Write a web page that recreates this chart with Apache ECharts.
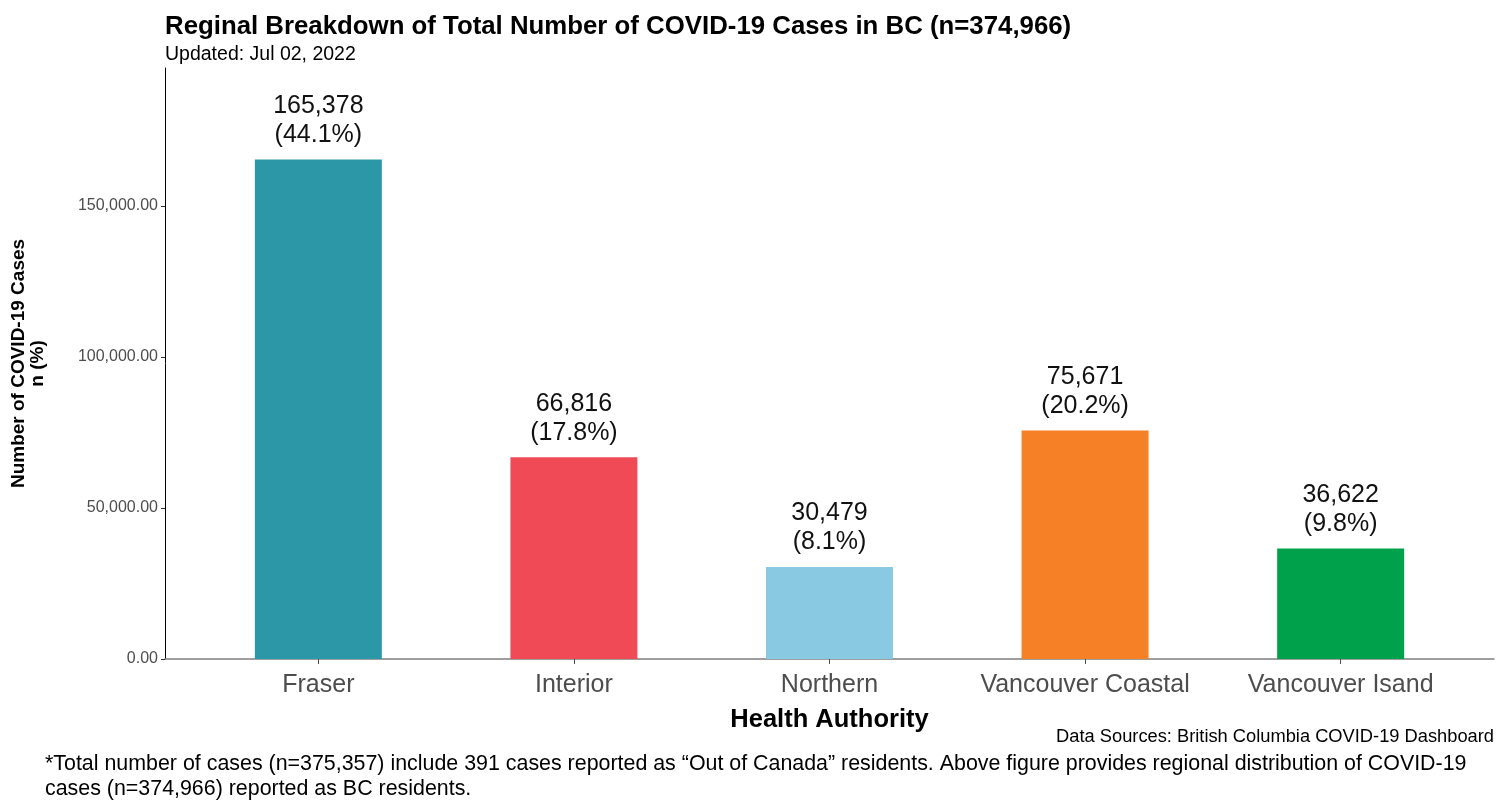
<!DOCTYPE html>
<html>
<head>
<meta charset="utf-8">
<script src="https://cdn.jsdelivr.net/npm/echarts@6/dist/echarts.min.js"></script>
<style>html,body{margin:0;padding:0;background:#fff}#c{width:1507px;height:800px}</style>
</head>
<body>
<div id="c"></div>
<script>
const categories = ['Fraser', 'Interior', 'Northern', 'Vancouver Coastal', 'Vancouver Isand'];
const cases = [165378, 66816, 30479, 75671, 36622];
const percents = ['44.1', '17.8', '8.1', '20.2', '9.8'];
const colors = ['#2C97A7', '#EF4A55', '#89C9E2', '#F58025', '#00A14B'];
const yTicks = [0, 50000, 100000, 150000];
const positions = [1, 2, 3, 4, 5];

const FONT = 'Liberation Sans, Arial, sans-serif';
const fmt = n => n.toLocaleString('en-US');

const chart = echarts.init(document.getElementById('c'));
chart.setOption({
  animation: false,
  backgroundColor: '#fff',
  textStyle: { fontFamily: FONT },
  title: [
    {
      text: 'Reginal Breakdown of Total Number of COVID-19 Cases in BC (n=374,966)',
      subtext: 'Updated: Jul 02, 2022',
      left: 165, top: 14,
      padding: 0,
      itemGap: 5,
      textStyle: { fontFamily: FONT, fontSize: 25.8, fontWeight: 'bold', color: '#000' },
      subtextStyle: { fontFamily: FONT, fontSize: 19.5, color: '#000' }
    },
    {
      text: 'Data Sources: British Columbia COVID-19 Dashboard',
      right: 13, top: 728,
      padding: 0,
      textStyle: { fontFamily: FONT, fontSize: 18.3, fontWeight: 'normal', color: '#000' }
    },
    {
      text: '*Total number of cases (n=375,357) include 391 cases reported as \u201cOut of Canada\u201d residents. Above figure provides regional distribution of COVID-19\ncases (n=374,966) reported as BC residents.',
      left: 45, top: 752,
      padding: 0,
      textStyle: { fontFamily: FONT, fontSize: 21.4, fontWeight: 'normal', color: '#000', lineHeight: 25 }
    }
  ],
  grid: { left: 165, right: 13, top: 68, bottom: 141, outerBoundsMode: 'none', containLabel: false },
  xAxis: {
    type: 'value',
    min: 0.4, max: 5.6,
    name: 'Health Authority',
    nameLocation: 'middle',
    nameGap: 48,
    nameTextStyle: { fontFamily: FONT, fontSize: 25.5, fontWeight: 'bold', color: '#000' },
    axisLine: { show: true, lineStyle: { color: '#7f7f7f', width: 1.5 } },
    axisTick: { show: true, customValues: positions, length: 5, lineStyle: { color: '#4d4d4d' } },
    axisLabel: {
      customValues: positions,
      formatter: v => categories[Math.round(v) - 1],
      fontFamily: FONT, fontSize: 25, color: '#4d4d4d', margin: 14
    },
    splitLine: { show: false }
  },
  yAxis: {
    type: 'value',
    min: 0, max: 195700,
    name: 'Number of COVID-19 Cases\nn (%)',
    nameLocation: 'middle',
    nameGap: 118,
    nameRotate: 90,
    nameTextStyle: { fontFamily: FONT, fontSize: 19, fontWeight: 'bold', color: '#000', lineHeight: 19 },
    axisLine: { show: true, lineStyle: { color: '#000', width: 1 } },
    axisTick: { show: true, customValues: yTicks, length: 4, lineStyle: { color: '#333' } },
    axisLabel: {
      customValues: yTicks,
      formatter: v => v.toLocaleString('en-US', { minimumFractionDigits: 2, maximumFractionDigits: 2 }),
      fontFamily: FONT, fontSize: 16, color: '#4d4d4d', margin: 7
    },
    splitLine: { show: false }
  },
  series: [{
    type: 'bar',
    barWidth: 127,
    data: cases.map((v, i) => ({ value: [positions[i], v], itemStyle: { color: colors[i] } })),
    label: {
      show: true,
      position: 'top',
      distance: 10,
      fontFamily: FONT, fontSize: 25, color: '#111', lineHeight: 29,
      formatter: p => fmt(cases[p.dataIndex]) + '\n(' + percents[p.dataIndex] + '%)'
    }
  }]
});
</script>
</body>
</html>
